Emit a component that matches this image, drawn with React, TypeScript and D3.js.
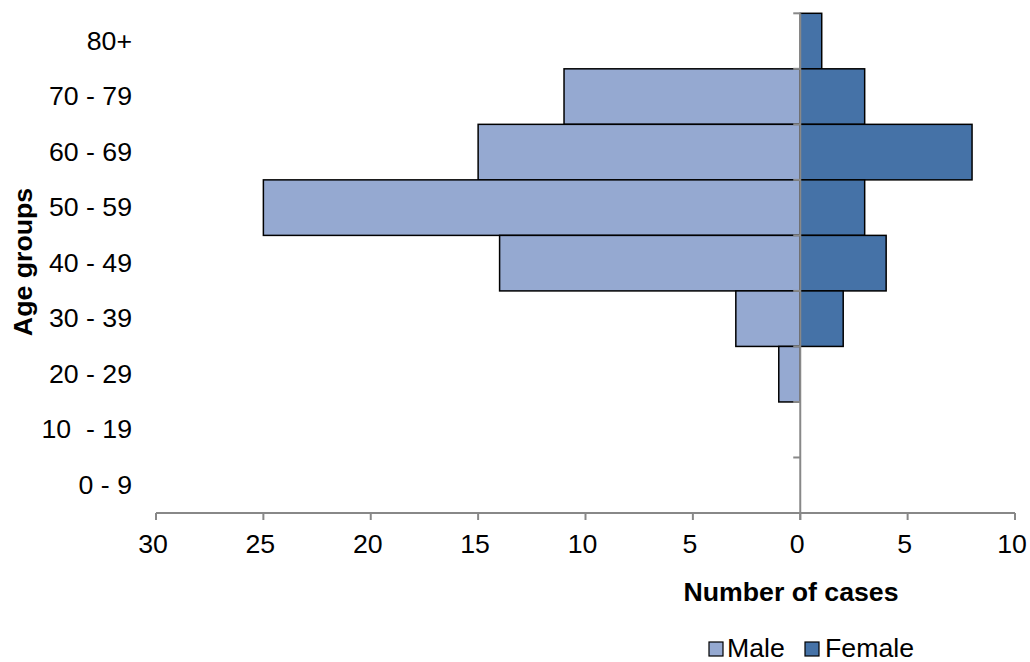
import React from "react";
import * as d3 from "d3";

const ageGroups = ["80+", "70 - 79", "60 - 69", "50 - 59", "40 - 49", "30 - 39", "20 - 29", "10  - 19", "0 - 9"];
const maleCases = [0, 11, 15, 25, 14, 3, 1, 0, 0];
const femaleCases = [1, 3, 8, 3, 4, 2, 0, 0, 0];
const xTicks = [-30, -25, -20, -15, -10, -5, 0, 5, 10];

const MALE = "#95A9D1";
const FEMALE = "#4572A7";
const AXIS = "#888888";
const FONT = "'Liberation Sans', Arial, sans-serif";
const FS = 26.7;

export default function App() {
  const W = 1030, H = 662;
  const x = d3.scaleLinear().domain([-30, 10]).range([156, 1015]);
  const y = d3.scaleBand<string>().domain(ageGroups).range([13.3, 513]).padding(0);
  const x0 = x(0);
  const bw = y.bandwidth();

  return (
    <svg width={W} height={H} style={{ position: "absolute", left: 0, top: 0, fontFamily: FONT }}>
      {ageGroups.map((g, i) =>
        maleCases[i] > 0 ? (
          <rect key={"m" + g} x={x(-maleCases[i])} y={y(g)!} width={x0 - x(-maleCases[i])} height={bw}
            fill={MALE} stroke="#000" strokeWidth={1.5} />
        ) : null
      )}
      {ageGroups.map((g, i) =>
        femaleCases[i] > 0 ? (
          <rect key={"f" + g} x={x0} y={y(g)!} width={x(femaleCases[i]) - x0} height={bw}
            fill={FEMALE} stroke="#000" strokeWidth={1.5} />
        ) : null
      )}
      <line x1={x0} x2={x0} y1={13.3} y2={520} stroke={AXIS} strokeWidth={2} />
      {ageGroups.map((g) => (
        <line key={"yt" + g} x1={x0 - 7} x2={x0} y1={y(g)!} y2={y(g)!} stroke={AXIS} strokeWidth={2} />
      ))}
      <line x1={x(-30)} x2={x(10)} y1={513} y2={513} stroke={AXIS} strokeWidth={2} />
      {xTicks.map((t) => (
        <g key={"xt" + t}>
          <line x1={x(t)} x2={x(t)} y1={513} y2={520} stroke={AXIS} strokeWidth={2} />
          <text x={x(t) - 3} y={553} textAnchor="middle" fontSize={FS} fill="#000">{Math.abs(t)}</text>
        </g>
      ))}
      {ageGroups.map((g) => (
        <text key={"yl" + g} x={132} y={y(g)! + bw / 2 + 8.5} textAnchor="end" fontSize={FS} fill="#000"
          style={{ whiteSpace: "pre" }} xmlSpace="preserve">{g}</text>
      ))}
      <text transform="translate(32,262) rotate(-90)" textAnchor="middle" fontSize={FS} fontWeight="bold" fill="#000">Age groups</text>
      <text x={791} y={601} textAnchor="middle" fontSize={FS} fontWeight="bold" fill="#000">Number of cases</text>
      <rect x={709} y={642} width={14} height={14} fill={MALE} stroke="#000" strokeWidth={1.2} />
      <text x={727} y={657} fontSize={FS} fill="#000">Male</text>
      <rect x={805} y={642} width={14} height={14} fill={FEMALE} stroke="#000" strokeWidth={1.2} />
      <text x={825} y={657} fontSize={FS} fill="#000">Female</text>
    </svg>
  );
}
